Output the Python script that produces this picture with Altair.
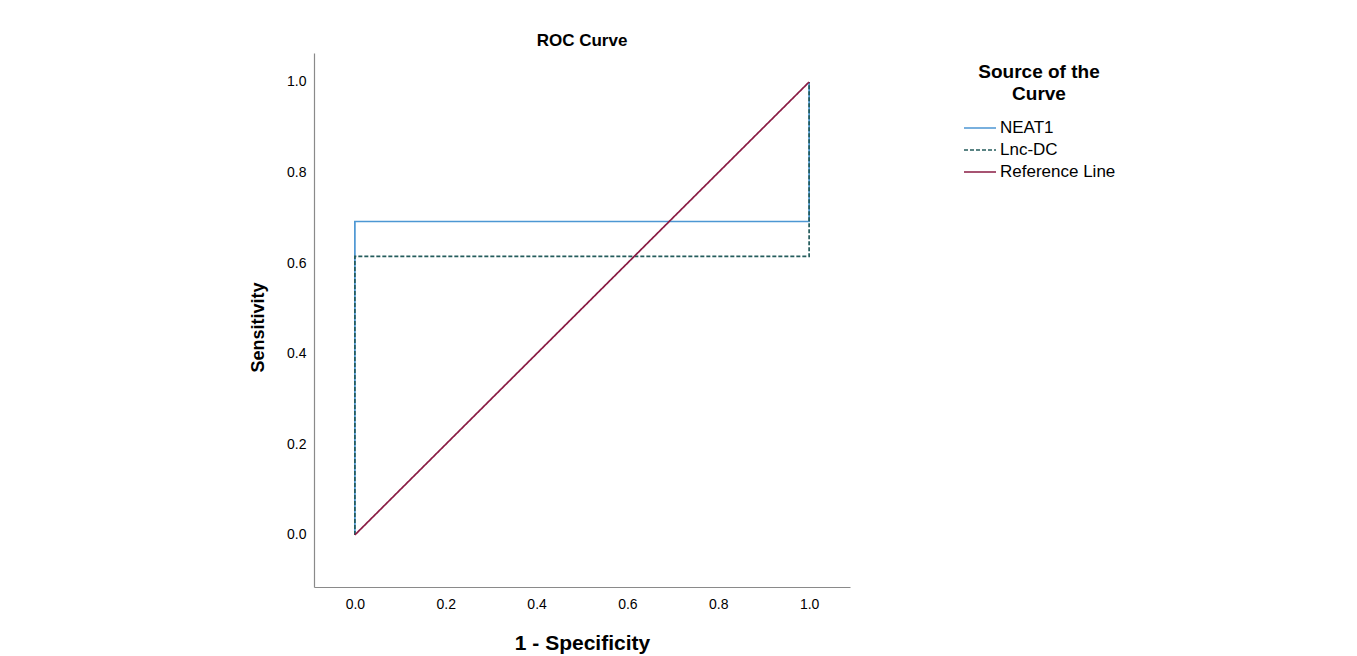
import altair as alt
import pandas as pd

series_names = ["NEAT1", "Lnc-DC", "Reference Line"]
neat1_x = [0.0, 0.0, 1.0, 1.0]
neat1_y = [0.0, 0.692, 0.692, 1.0]
lnc_x = [0.0, 0.0, 1.0, 1.0]
lnc_y = [0.0, 0.615, 0.615, 1.0]
ref_x = [0.0, 1.0]
ref_y = [0.0, 1.0]
tick_values = [0.0, 0.2, 0.4, 0.6, 0.8, 1.0]

rows = []
for name, xs, ys in [("NEAT1", neat1_x, neat1_y), ("Lnc-DC", lnc_x, lnc_y), ("Reference Line", ref_x, ref_y)]:
    for i, (x, y) in enumerate(zip(xs, ys)):
        rows.append({"series": name, "x": x, "y": y, "order": i})
df = pd.DataFrame(rows)

colors = ["#4d97d3", "#245c5c", "#8a1c44"]
dashes = [[1, 0], [4, 2], [1, 0]]

FONT = "Liberation Sans"

chart = alt.Chart(df).mark_line(strokeWidth=1.7).encode(
    x=alt.X("x:Q",
            scale=alt.Scale(domain=[-0.09, 1.09], nice=False, zero=False),
            axis=alt.Axis(values=tick_values, format=".1f", ticks=False, grid=False,
                          title="1 - Specificity", labelPadding=10, titleFontSize=21,
                          titleX=268, titleY=56, titleAlign="center", titleBaseline="middle")),
    y=alt.Y("y:Q",
            scale=alt.Scale(domain=[-0.115, 1.064], nice=False, zero=False),
            axis=alt.Axis(values=tick_values, format=".1f", ticks=False, grid=False,
                          title="Sensitivity", labelPadding=8,
                          titleX=-56, titleY=274, titleAngle=-90,
                          titleAlign="center", titleBaseline="middle")),
    color=alt.Color("series:N",
                    scale=alt.Scale(domain=series_names, range=colors),
                    legend=alt.Legend(title=["Source of the", "Curve"],
                                      orient="none", legendX=649, legendY=10,
                                      titleAnchor="middle", titleAlign="center",
                                      titleFontSize=19, titleFont=FONT, titleFontWeight="bold",
                                      titleColor="black", titleLineHeight=22, titlePadding=13,
                                      labelFontSize=17, labelFont=FONT, labelColor="black",
                                      labelOffset=3, symbolType="stroke", symbolSize=1024,
                                      symbolStrokeWidth=1.6, clipHeight=22, rowPadding=0,
                                      padding=0)),
    strokeDash=alt.StrokeDash("series:N",
                              scale=alt.Scale(domain=series_names, range=dashes),
                              legend=None),
    order="order:Q",
    detail="series:N",
).properties(
    width=536,
    height=534,
    title=alt.TitleParams("ROC Curve", fontSize=17, font=FONT, fontWeight="bold",
                          color="black", anchor="middle", offset=3),
    autosize=alt.AutoSizeParams(type="none"),
    padding={"left": 306, "top": 45, "right": 490, "bottom": 68},
).configure_view(stroke=None).configure_axis(
    domainColor="#8a8a8a", domainWidth=1.2,
    labelFont=FONT, labelFontSize=14, labelColor="black",
    titleFont=FONT, titleFontSize=18, titleFontWeight="bold", titleColor="black",
)

chart.save("out.html", embed_options={"renderer": "svg", "actions": False})
